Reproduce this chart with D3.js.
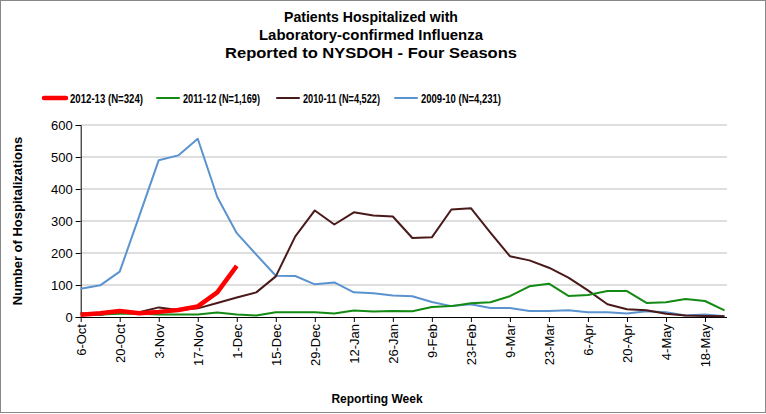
<!DOCTYPE html>
<html><head><meta charset="utf-8">
<script src="https://cdn.jsdelivr.net/npm/d3@7"></script>
<style>body{margin:0;background:#fff}svg{font-family:"Liberation Sans",Arial,sans-serif}</style>
</head><body><svg id="chart" width="766" height="414"></svg>
<script>
const weeks = ["6-Oct","13-Oct","20-Oct","27-Oct","3-Nov","10-Nov","17-Nov","24-Nov","1-Dec","8-Dec","15-Dec","22-Dec","29-Dec","5-Jan","12-Jan","19-Jan","26-Jan","2-Feb","9-Feb","16-Feb","23-Feb","2-Mar","9-Mar","16-Mar","23-Mar","30-Mar","6-Apr","13-Apr","20-Apr","27-Apr","4-May","11-May","18-May","25-May"];
const s2012 = [7,12,19,12,16,22,33,77,160];
const s2011 = [9,8,10,10,8,8,8,14,8,5,15,15,15,11,20,17,19,18,31,34,43,46,65,96,104,66,69,81,81,44,46,56,50,21];
const s2010 = [12,7,15,15,30,22,27,44,61,77,127,252,333,289,327,317,314,247,249,336,340,264,190,177,154,123,83,40,24,21,10,5,3,2];
const s2009 = [88,99,142,315,490,505,557,375,262,195,129,128,102,108,77,74,67,65,47,34,40,28,28,19,19,21,15,15,11,18,15,5,8,2];
const yTicks = [0,100,200,300,400,500,600];

const series = [
  {name:"2012-13 (N=324)", values:s2012, color:"#ff0000", width:4.5, lx:42, tw:73},
  {name:"2011-12 (N=1,169)", values:s2011, color:"#138a13", width:2, lx:155, tw:77},
  {name:"2010-11 (N=4,522)", values:s2010, color:"#4a1a1a", width:2, lx:275, tw:77},
  {name:"2009-10 (N=4,231)", values:s2009, color:"#5b93cf", width:2, lx:393, tw:80}
];

const svg = d3.select("#chart");
svg.append("rect").attr("x",0.5).attr("y",0.5).attr("width",765).attr("height",412)
  .attr("fill","#fff").attr("stroke","#888");

const x = d3.scalePoint().domain(weeks).range([80.7, 724.5]);
const y = d3.scaleLinear().domain([0,600]).range([317,125]);

const title = ["Patients Hospitalized with","Laboratory-confirmed Influenza","Reported to NYSDOH - Four Seasons"];
const titleW = [174, 224, 292];
svg.selectAll(".title").data(title).enter().append("text")
  .attr("x",(d,i)=>371-titleW[i]/2).attr("y",(d,i)=>22+i*18)
  .attr("textLength",(d,i)=>titleW[i]).attr("lengthAdjust","spacingAndGlyphs")
  .style("font-size","15.5px").style("font-weight","bold").text(d=>d);

// gridlines
svg.append("g").selectAll("line").data(yTicks.slice(1)).enter().append("line")
  .attr("x1",80.7).attr("x2",727).attr("y1",d=>y(d)).attr("y2",d=>y(d))
  .attr("stroke","#bdbdbd");

const yAxis = svg.append("g").attr("transform","translate(80.7,0)")
  .call(d3.axisLeft(y).tickValues(yTicks).tickSize(5));
yAxis.selectAll("text").style("font-size","13px").attr("fill","#000");

const xAxis = svg.append("g").attr("transform","translate(0,317)")
  .call(d3.axisBottom(x).tickValues(weeks.filter((d,i)=>i%2===0)).tickSize(5));
xAxis.select(".domain").attr("d","M80.7,0.5H727");
xAxis.selectAll("text").style("font-size","13px").attr("fill","#000")
  .attr("transform","rotate(-90)").attr("text-anchor","end")
  .attr("x",-7).attr("y",0).attr("dy","0.35em");
svg.selectAll(".domain, .tick line").attr("stroke","#000");

const line = d3.line().x((d,i)=>x(weeks[i])).y(d=>y(d));
series.slice().reverse().forEach(s=>{
  svg.append("path").datum(s.values).attr("d",line).attr("fill","none")
    .attr("stroke",s.color).attr("stroke-width",s.width).attr("stroke-linejoin","round");
});

const lg = svg.append("g");
series.forEach(s=>{
  lg.append("line").attr("x1",s.lx+2).attr("x2",s.lx+24).attr("y1",98).attr("y2",98)
    .attr("stroke",s.color).attr("stroke-width",s.width).attr("stroke-linecap","round");
  lg.append("text").attr("x",s.lx+28).attr("y",102.5).style("font-size","13px")
    .attr("textLength",s.tw).attr("lengthAdjust","spacingAndGlyphs")
    .style("font-weight","bold").text(s.name);
});

svg.append("text").attr("transform","translate(22,221) rotate(-90)").attr("text-anchor","middle")
  .style("font-size","13px").style("font-weight","bold").text("Number of Hospitalizations");
svg.append("text").attr("x",377).attr("y",403).attr("text-anchor","middle")
  .style("font-size","12px").style("font-weight","bold").text("Reporting Week");
</script></body></html>
